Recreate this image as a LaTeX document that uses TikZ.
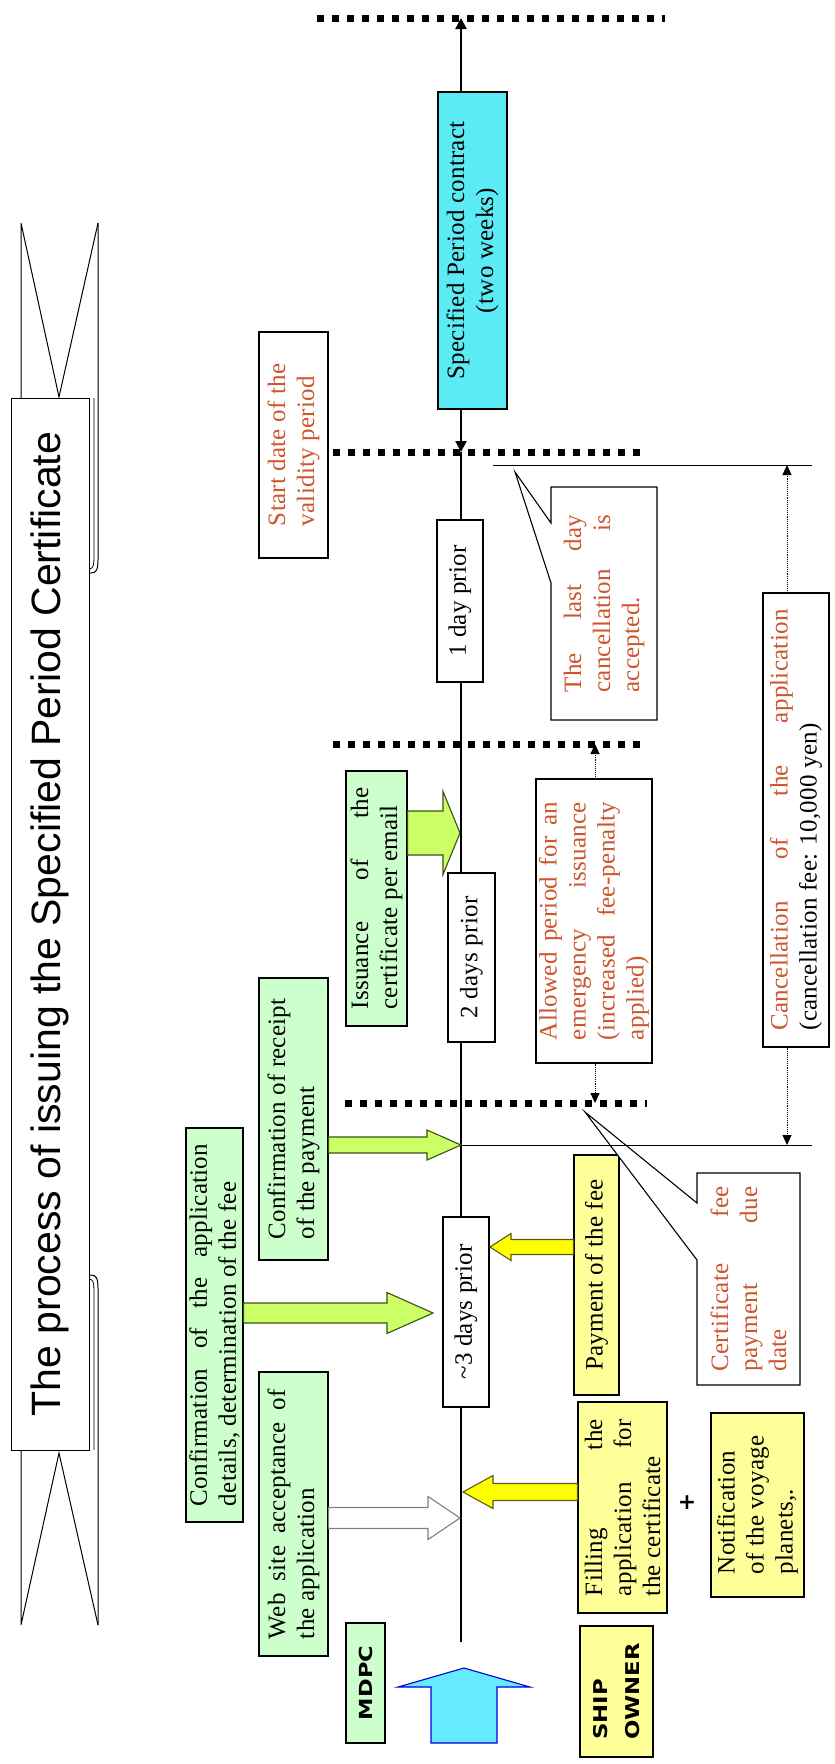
\documentclass[tikz,border=0pt]{standalone}
\usepackage{fontspec}
\usepackage{graphicx}
\usetikzlibrary{calc,arrows.meta}

\newfontfamily\boxfont[LetterSpace=1]{Liberation Serif}
\newfontfamily\titlefont{Liberation Sans}
\newfontfamily\tagfont{DejaVu Sans}

\definecolor{boxgreen}{RGB}{204,255,204}
\definecolor{boxyellow}{RGB}{255,255,153}
\definecolor{arrgreen}{RGB}{204,255,102}
\definecolor{arrgreenline}{RGB}{60,80,20}
\definecolor{arryellow}{RGB}{255,255,0}
\definecolor{arryellowline}{RGB}{90,90,30}
\definecolor{contract}{RGB}{90,235,245}
\definecolor{bluearr}{RGB}{100,235,255}
\definecolor{notered}{RGB}{205,85,45}

% one justified line of a box
\newcommand{\jline}[2]{\makebox[#1][s]{#2}}
% block arrow: [style]{start}{tip}{shaft half}{head half}{head length}
\newcommand{\blockarrow}[6][]{%
  \coordinate (ba-h) at ($(#3)!#6!(#2)$);
  \draw[#1] ($(#2)!#4!90:(#3)$) -- ($(ba-h)!#4!90:(#3)$)
    -- ($(ba-h)!#5!90:(#3)$) -- (#3)
    -- ($(ba-h)!#5!-90:(#3)$) -- ($(ba-h)!#4!-90:(#3)$)
    -- ($(#2)!#4!-90:(#3)$) -- cycle;}

\begin{document}
\begin{tikzpicture}
        [x=1pt,y=-1pt,
         box/.style={draw, line width=1.1pt, rotate=90, inner sep=0pt,
                     font=\boxfont\fontsize{25}{29}\selectfont},
         gbox/.style={box, fill=boxgreen},
         ybox/.style={box, fill=boxyellow},
         wbox/.style={box, fill=white},
         note/.style={rotate=90, inner sep=0pt, text=notered,
                      font=\boxfont\fontsize{25}{29}\selectfont},
         callout/.style={draw, fill=white, line width=1.1pt},
         dotline/.style={line width=7pt, dash pattern=on 7pt off 8pt},
         dimarr/.style={densely dotted, line width=0.9pt,
                        -{Triangle[length=10pt,width=9pt]}},
         tlarrow/.style={line width=2.2pt, -{Triangle[length=11pt,width=11pt]}},
         garrow/.style={draw=arrgreenline, fill=arrgreen, line width=1.1pt},
         yarrow/.style={draw=arryellowline, fill=arryellow, line width=1.1pt},
         warrow/.style={draw=gray, fill=white, line width=1.1pt},
         barrow/.style={draw=blue!85!black, fill=bluearr, line width=1.1pt}]

        \useasboundingbox (0,0) rectangle (835,1764);

        % title ribbon
        \draw[line width=1pt] (21,223) -- (21,398) (21,223) -- (59,397) -- (98,223);
        \draw[line width=1pt] (98,223) -- (98,560) .. controls (98,570) and (96,573) .. (91,573) -- (89,573);
        \draw[line width=0.8pt] (94,398) -- (94,558) .. controls (94,565) and (93,568) .. (90,569);
        \draw[line width=1pt] (21,1625) -- (21,1450) (21,1625) -- (59,1453) -- (98,1625);
        \draw[line width=1pt] (98,1625) -- (98,1288) .. controls (98,1278) and (96,1275) .. (91,1275) -- (89,1275);
        \draw[line width=0.8pt] (94,1450) -- (94,1290) .. controls (94,1283) and (93,1280) .. (90,1279);
        \node[draw, line width=1pt, fill=white, rotate=90, minimum width=1052pt, minimum height=78pt,
              font=\titlefont\fontsize{41}{41}\selectfont] (title) at (50,924)
              {The process of issuing the Specified Period Certificate};

        % day borders
        \draw[dotline] (317,18) -- (665,18);
        \draw[dotline] (333,452) -- (647,452);
        \draw[dotline] (333,744) -- (645,744);
        \draw[dotline] (345,1103) -- (647,1103);

        % time line
        \coordinate (ttop) at (461,18);
        \coordinate (tstart) at (461,452);
        \coordinate (tend) at (461,1642);
        \draw[line width=2.5pt] (tstart) -- (tend);

        \node[box, fill=contract, minimum width=317pt, minimum height=69pt, align=center] (spc) at (472.5,250.5)
              {Specified Period contract\\(two weeks)};
        \draw[tlarrow] (spc.east -| ttop) -- (ttop);
        \draw[tlarrow] (spc.west -| tstart) -- (tstart);

        \node[wbox, minimum width=226pt, minimum height=69pt, align=left, text=notered] (start) at (293.5,445)
              {Start date of the\\validity period};
        \node[wbox, minimum width=162pt, minimum height=46pt] (day1) at (460,601) {1 day prior};
        \node[wbox, minimum width=169pt, minimum height=47pt] (day2) at (471.5,957.5) {2 days prior};
        \node[wbox, minimum width=190pt, minimum height=46pt] (day3) at (466,1312) {\textasciitilde3 days prior};

        % MDPC side
        \node[gbox, minimum width=255pt, minimum height=61pt, align=left] (issue) at (376.5,898.5)
              {\jline{222pt}{Issuance of the}\\certificate per email};
        \node[gbox, minimum width=282pt, minimum height=69pt, align=left] (rcpt) at (293.5,1119)
              {Confirmation of receipt\\of the payment};
        \node[gbox, minimum width=394pt, minimum height=57pt, align=left] (confdet) at (214.5,1325)
              {\jline{362pt}{Confirmation of the application}\\details, determination of the fee};
        \node[gbox, minimum width=284pt, minimum height=69pt, align=left] (web) at (293.5,1514)
              {\jline{250pt}{Web site acceptance of}\\the application};
        \node[gbox, minimum width=120pt, minimum height=39pt,
              font=\tagfont\bfseries\fontsize{18}{18}\selectfont] (mdpc) at (365.5,1683)
              {\scalebox{1.25}[1]{MDPC}};

        % ship owner side
        \node[ybox, minimum width=240pt, minimum height=45pt] (pay) at (596.5,1275) {Payment of the fee};
        \node[ybox, minimum width=211pt, minimum height=89pt, align=left] (filling) at (622.5,1507.5)
              {\jline{177pt}{Filling the}\\\jline{177pt}{application for}\\the certificate};
        \node[font=\tagfont\bfseries\fontsize{22}{22}\selectfont, inner sep=0pt] (plus) at (687,1503) {+};
        \node[ybox, minimum width=184pt, minimum height=93pt, align=left] (notif) at (757.5,1505)
              {Notification\\of the voyage\\planets,.};
        \node[ybox, minimum width=131pt, minimum height=73pt, align=left,
              font=\tagfont\bfseries\fontsize{19}{32}\selectfont] (owner) at (616.5,1691.5)
              {\scalebox{1.2}[1]{SHIP}\\\scalebox{1.2}[1]{OWNER}};

        % notes
        \node[wbox, minimum width=284pt, minimum height=116pt, align=left, text=notered] (allow) at (594,921)
              {\jline{238pt}{Allowed period for an}\\\jline{238pt}{emergency issuance}\\
               \jline{238pt}{(increased fee-penalty}\\applied)};
        \node[wbox, minimum width=454pt, minimum height=66pt, align=left, text=notered] (cancel) at (796,820)
              {\jline{421pt}{Cancellation of the application}\\\textcolor{black}{(cancellation fee: 10,000 yen)}};

        \draw[callout] (551,487) -- (657,487) -- (657,720) -- (551,720) -- (551,583) -- (515,472) -- (551,523) -- cycle;
        \node[note, align=left] (lastday) at (604,603.5)
              {\jline{178pt}{The last day}\\\jline{178pt}{cancellation is}\\accepted.};
        \draw[callout] (697,1173) -- (800,1173) -- (800,1385) -- (697,1385) -- (697,1260) -- (585,1112) -- (697,1203) -- cycle;
        \node[note, align=left] (certfee) at (748.5,1279)
              {\jline{185pt}{Certificate fee}\\\jline{185pt}{payment due}\\date};

        % block arrows
        \coordinate (hitiss) at (460,833);
        \coordinate (fromiss) at (issue.south |- hitiss);
        \blockarrow[garrow]{fromiss}{hitiss}{22pt}{41.5pt}{17pt}
        \coordinate (hitrcpt) at (461,1145);
        \coordinate (fromrcpt) at (rcpt.south |- hitrcpt);
        \blockarrow[garrow]{fromrcpt}{hitrcpt}{8pt}{15pt}{34pt}
        \coordinate (hitdet) at (433,1313);
        \coordinate (fromdet) at (confdet.south |- hitdet);
        \blockarrow[garrow]{fromdet}{hitdet}{10pt}{20.5pt}{46pt}
        \coordinate (hitweb) at (460,1518);
        \coordinate (fromweb) at (web.south |- hitweb);
        \blockarrow[warrow]{fromweb}{hitweb}{10.5pt}{21.5pt}{32pt}
        \coordinate (hitfill) at (463,1492);
        \coordinate (fromfill) at (filling.north |- hitfill);
        \blockarrow[yarrow]{fromfill}{hitfill}{8.5pt}{16.5pt}{30pt}
        \coordinate (hitpay) at (490,1247);
        \coordinate (frompay) at (pay.north |- hitpay);
        \blockarrow[yarrow]{frompay}{hitpay}{7.5pt}{13.5pt}{21pt}
        \coordinate (bluebase) at (464,1743);
        \coordinate (bluetip) at (464,1668);
        \blockarrow[barrow]{bluebase}{bluetip}{33pt}{66pt}{19pt}

        % cancellation limits
        \draw[line width=1pt] (493,465) -- (812,465);
        \draw[line width=1pt] (hitrcpt) -- (812,1145);
        \coordinate (d2hit) at (595,744);
        \coordinate (d3hit) at (595,1103);
        \coordinate (h1hit) at (787,465);
        \coordinate (h2hit) at (787,1145);
        \draw[dimarr] (allow.east -| d2hit) -- (d2hit);
        \draw[dimarr] (allow.west -| d3hit) -- (d3hit);
        \draw[dimarr] (cancel.east -| h1hit) -- (h1hit);
        \draw[dimarr] (cancel.west -| h2hit) -- (h2hit);
    \end{tikzpicture}
\end{document}
